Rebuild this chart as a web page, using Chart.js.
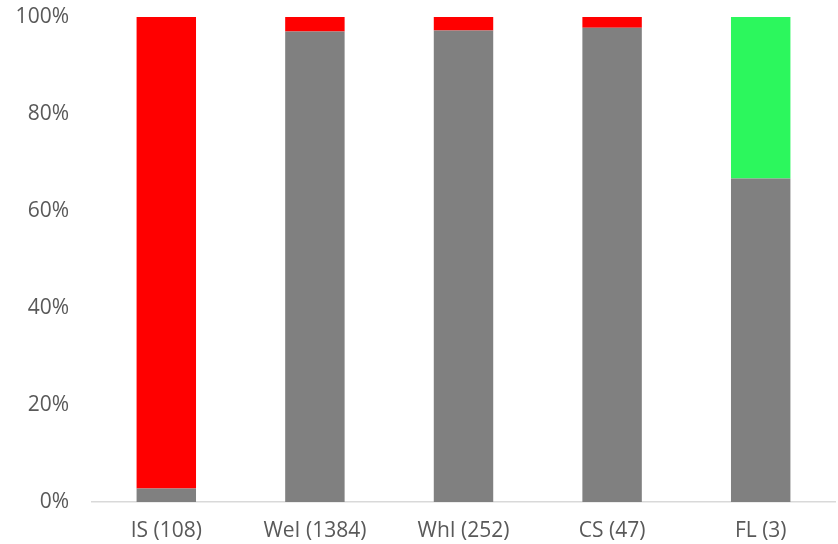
<!DOCTYPE html>
<html>
<head>
<meta charset="utf-8">
<script src="https://cdn.jsdelivr.net/npm/chart.js@4"></script>
<style>
  html, body { margin: 0; padding: 0; background: #fff; }
  #wrap { width: 838px; height: 544px; }
</style>
</head>
<body>
<div id="wrap"><canvas id="chart" width="838" height="544"></canvas></div>
<script>
// categories (sample size in brackets)
const categories = ['IS (108)', 'WeI (1384)', 'WhI (252)', 'CS (47)', 'FL (3)'];
// share per category, percent
const greyShare  = [2.8, 97.0, 97.2, 97.8, 66.7];
const redShare   = [97.2, 3.0, 2.8, 2.2, 0];
const greenShare = [0, 0, 0, 0, 33.3];
const yTicks = [0, 20, 40, 60, 80, 100];

const labelFont = { family: '"Open Sans", sans-serif', size: 21 };

var ctx = document.getElementById('chart').getContext('2d');
var chart = new Chart(ctx, {
  type: 'bar',
  data: {
    labels: categories,
    datasets: [
      { label: 'grey', data: greyShare, backgroundColor: '#808080' },
      { label: 'red', data: redShare, backgroundColor: '#ff0000' },
      { label: 'green', data: greenShare, backgroundColor: '#2cf75d' }
    ]
  },
  options: {
    responsive: false,
    animation: false,
    categoryPercentage: 1.0,
    barPercentage: 0.4,
    layout: { padding: { top: 17, right: 3, left: 0, bottom: 0 } },
    plugins: {
      legend: { display: false },
      tooltip: { enabled: false }
    },
    scales: {
      x: {
        stacked: true,
        grid: { display: false, drawTicks: false },
        border: { display: true, color: '#d9d9d9', width: 1.5 },
        ticks: { color: '#595959', font: labelFont, padding: 16 },
        afterFit: function(scale) {
          scale.height = 42;
          scale.paddingLeft = 0;
          scale.paddingRight = 0;
        }
      },
      y: {
        stacked: true,
        min: 0,
        max: 100,
        grid: { display: false, drawTicks: false },
        border: { display: false },
        afterBuildTicks: function(scale) {
          scale.ticks = yTicks.map(v => ({ value: v }));
        },
        ticks: {
          color: '#595959',
          font: labelFont,
          padding: 23,
          callback: v => v + '%'
        },
        afterFit: function(scale) {
          scale.width = 92;
          scale.paddingTop = 0;
          scale.paddingBottom = 0;
        }
      }
    }
  }
});
</script>
</body>
</html>
